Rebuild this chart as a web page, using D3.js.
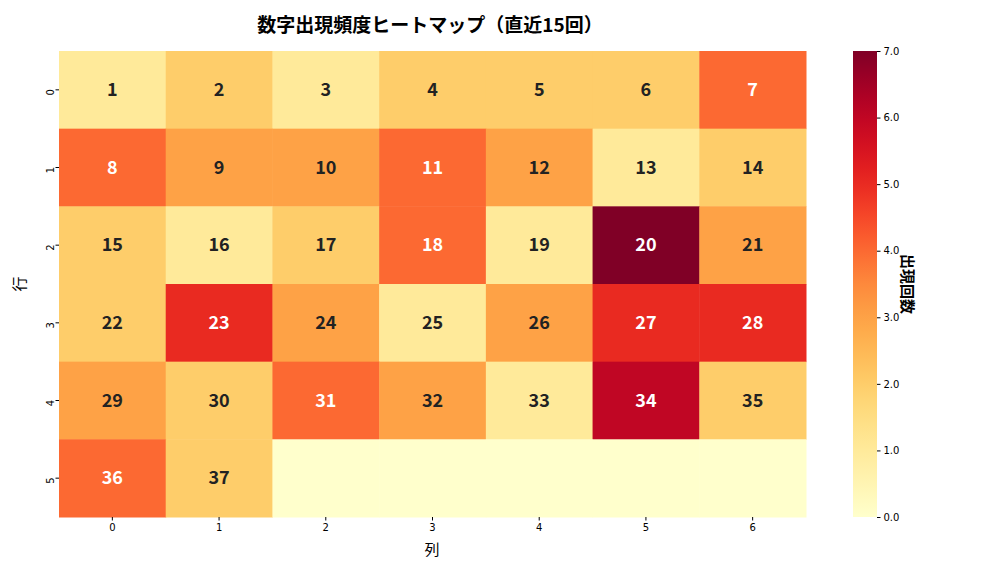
<!DOCTYPE html>
<html><head><meta charset="utf-8">
<script src="https://cdn.jsdelivr.net/npm/d3@7"></script>
<style>body{margin:0;background:#fff;font-family:"Noto Sans CJK JP","DejaVu Sans",sans-serif}</style>
</head><body><svg id="c" width="1008" height="576"></svg>
<script>
const rows=[0,1,2,3,4,5];
const cols=[0,1,2,3,4,5,6];
const counts=[
 [1,2,1,2,2,2,4],
 [4,3,3,4,3,1,2],
 [2,1,2,4,1,7,3],
 [2,5,3,1,3,5,5],
 [3,2,4,3,1,6,2],
 [4,2,0,0,0,0,0]];
const labels=[
 [1,2,3,4,5,6,7],[8,9,10,11,12,13,14],[15,16,17,18,19,20,21],
 [22,23,24,25,26,27,28],[29,30,31,32,33,34,35],[36,37,null,null,null,null,null]];
const cbTicks=[0,1,2,3,4,5,6,7];
const svg=d3.select("#c");
const L=59,R=806,T=51,B=517;
const x=d3.scaleBand().domain(cols).range([L,R]);
const y=d3.scaleBand().domain(rows).range([T,B]);
const color=v=>d3.interpolateYlOrRd(v/7);
rows.forEach(r=>cols.forEach(c=>{
 const v=counts[r][c];
 svg.append("rect").attr("x",x(c)).attr("y",y(r)).attr("width",x.bandwidth()+0.5).attr("height",y.bandwidth()+0.5).attr("fill",color(v));
 if(labels[r][c]!=null) svg.append("text").attr("x",x(c)+x.bandwidth()/2).attr("y",y(r)+y.bandwidth()/2).attr("dy","0.35em").attr("text-anchor","middle").attr("font-size",18).attr("font-weight","bold").attr("fill",v>=4?"#fff":"#222").text(labels[r][c]);
}));
const xa=svg.append("g").attr("transform",`translate(0,${B})`).call(d3.axisBottom(x).tickSize(3.5));
const ya=svg.append("g").attr("transform",`translate(${L},0)`).call(d3.axisLeft(y).tickSize(3.5));
[xa,ya].forEach(a=>{a.select(".domain").remove();a.selectAll("text").attr("font-size",10).attr("font-family","DejaVu Sans");});
ya.selectAll("text").attr("transform",function(){const t=d3.select(this);return `rotate(-90,${t.attr("x")||-6.5},0)`}).attr("text-anchor","middle").attr("dy","0.1em").attr("x",-9);
svg.append("text").attr("x",432).attr("y",555).attr("text-anchor","middle").attr("font-size",15).text("列");
svg.append("text").attr("transform","translate(25,284) rotate(-90)").attr("text-anchor","middle").attr("font-size",15).text("行");
svg.append("text").attr("x",430).attr("y",32).attr("text-anchor","middle").attr("font-size",19).attr("font-weight","bold").text("数字出現頻度ヒートマップ（直近15回）");
// colorbar
const defs=svg.append("defs");const g=defs.append("linearGradient").attr("id","g").attr("x1",0).attr("y1",1).attr("x2",0).attr("y2",0);
d3.range(0,1.001,0.05).forEach(t=>g.append("stop").attr("offset",t).attr("stop-color",d3.interpolateYlOrRd(t)));
const cx=853,cw=24;
svg.append("rect").attr("x",cx).attr("y",T).attr("width",cw).attr("height",B-T).attr("fill","url(#g)");
const cy=d3.scaleLinear().domain([0,7]).range([B,T]);
const ca=svg.append("g").attr("transform",`translate(${cx+cw},0)`).call(d3.axisRight(cy).tickValues(cbTicks).tickSize(3.5));
ca.select(".domain").remove();ca.selectAll("text").attr("font-size",10).attr("font-family","DejaVu Sans");
svg.append("text").attr("transform","translate(902,284) rotate(90)").attr("text-anchor","middle").attr("font-size",15).attr("font-weight","bold").text("出現回数");
</script></body></html>
